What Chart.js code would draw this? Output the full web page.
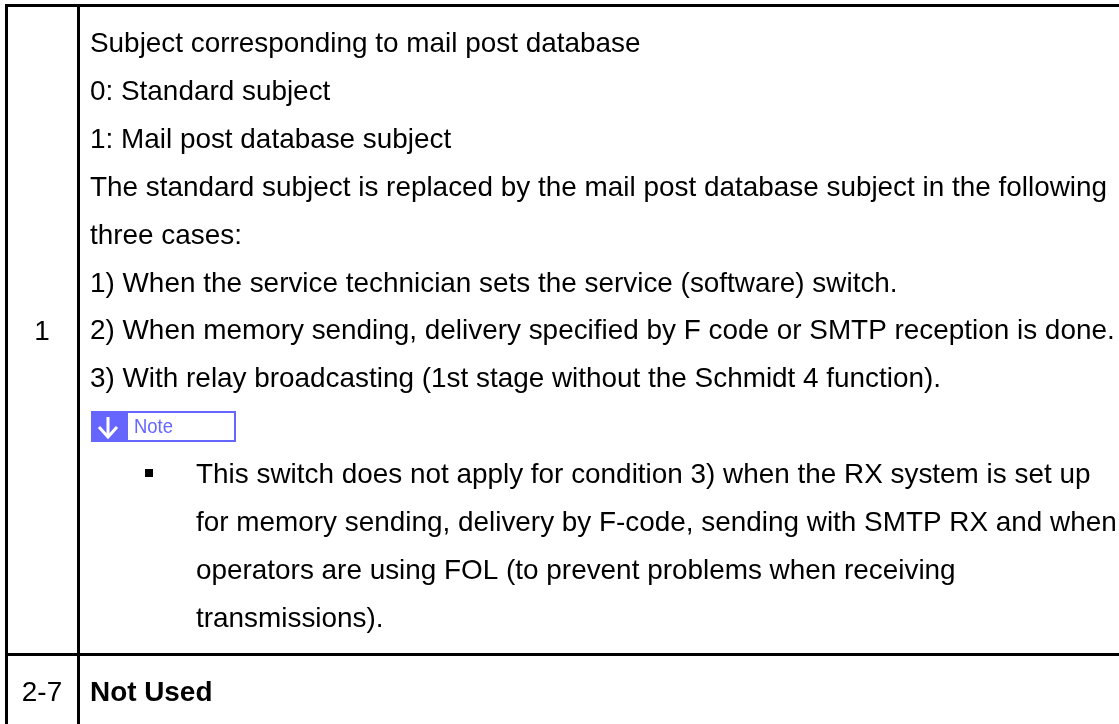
<!DOCTYPE html>
<html>
<head>
<meta charset="utf-8">
<title>Subject switch table</title>
<script src="https://cdn.jsdelivr.net/npm/chart.js@4"></script>
<style>
  html, body { margin: 0; padding: 0; background: #fff; }
  canvas { display: block; }
</style>
</head>
<body>
<canvas id="table-chart" width="1119" height="724"></canvas>
<script>
const bitLabels = ['1', '2-7'];
const bodyLines = [
  'Subject corresponding to mail post database',
  '0: Standard subject',
  '1: Mail post database subject',
  'The standard subject is replaced by the mail post database subject in the following',
  'three cases:',
  '1) When the service technician sets the service (software) switch.',
  '2) When memory sending, delivery specified by F code or SMTP reception is done.',
  '3) With relay broadcasting (1st stage without the Schmidt 4 function).'
];
const noteLabel = 'Note';
const bulletLines = [
  'This switch does not apply for condition 3) when the RX system is set up',
  'for memory sending, delivery by F-code, sending with SMTP RX and when',
  'operators are using FOL (to prevent problems when receiving',
  'transmissions).'
];
const notUsedLabel = 'Not Used';

// table rules, in picture coordinates
const horizontalRules = [5.5, 654.5];
const verticalRules = [6.5, 78.5];
const tableRight = 1119;
const tableBottom = 724;

const ruleDatasets = [];
horizontalRules.forEach(y => {
  ruleDatasets.push({ data: [{ x: 5, y: y }, { x: tableRight, y: y }] });
});
verticalRules.forEach(x => {
  ruleDatasets.push({ data: [{ x: x, y: 4 }, { x: x, y: tableBottom }] });
});
ruleDatasets.forEach(d => {
  d.borderColor = '#000';
  d.borderWidth = 3;
  d.pointRadius = 0;
  d.borderCapStyle = 'butt';
});

// text and the Note badge go through the same scales as the rules
const tableText = {
  id: 'tableText',
  afterDatasetsDraw(chart) {
    const c = chart.ctx;
    const sx = chart.scales.x;
    const sy = chart.scales.y;
    const firstLine = 52;
    const step = 47.9;
    c.save();
    c.fillStyle = '#000';
    c.textBaseline = 'alphabetic';
    c.font = '27.9px "Liberation Sans"';

    bodyLines.forEach((t, i) => {
      c.fillText(t, sx.getPixelForValue(90), sy.getPixelForValue(firstLine + i * step));
    });

    c.textAlign = 'center';
    c.fillText(bitLabels[0], sx.getPixelForValue(42), sy.getPixelForValue(340));
    c.fillText(bitLabels[1], sx.getPixelForValue(42), sy.getPixelForValue(701));
    c.textAlign = 'left';

    bulletLines.forEach((t, i) => {
      c.fillText(t, sx.getPixelForValue(196), sy.getPixelForValue(483 + i * step));
    });
    c.fillRect(sx.getPixelForValue(145), sy.getPixelForValue(469), 8, 8);

    c.font = 'bold 27.9px "Liberation Sans"';
    c.fillText(notUsedLabel, sx.getPixelForValue(90), sy.getPixelForValue(701));

    // Note badge
    const bx = sx.getPixelForValue(91);
    const by = sy.getPixelForValue(411);
    c.fillStyle = '#6666ff';
    c.fillRect(bx, by, 145, 31);
    c.fillStyle = '#fff';
    c.fillRect(bx + 37, by + 2, 106, 27);
    c.strokeStyle = '#fff';
    c.lineWidth = 3;
    c.beginPath();
    c.moveTo(bx + 17, by + 6);
    c.lineTo(bx + 17, by + 26);
    c.moveTo(bx + 8, by + 16);
    c.lineTo(bx + 17, by + 26);
    c.lineTo(bx + 26, by + 16);
    c.stroke();
    c.fillStyle = '#6666ff';
    c.font = '21px "Liberation Sans"';
    c.fillText(noteLabel, bx + 43, by + 22, 39);
    c.restore();
  }
};

new Chart(document.getElementById('table-chart').getContext('2d'), {
  type: 'line',
  data: { datasets: ruleDatasets },
  options: {
    responsive: false,
    animation: false,
    parsing: false,
    layout: { padding: 0 },
    plugins: { legend: { display: false }, tooltip: { enabled: false } },
    scales: {
      x: { type: 'linear', display: false, min: 0, max: 1119 },
      y: { type: 'linear', display: false, min: 0, max: 724, reverse: true }
    }
  },
  plugins: [tableText]
});
</script>
</body>
</html>
